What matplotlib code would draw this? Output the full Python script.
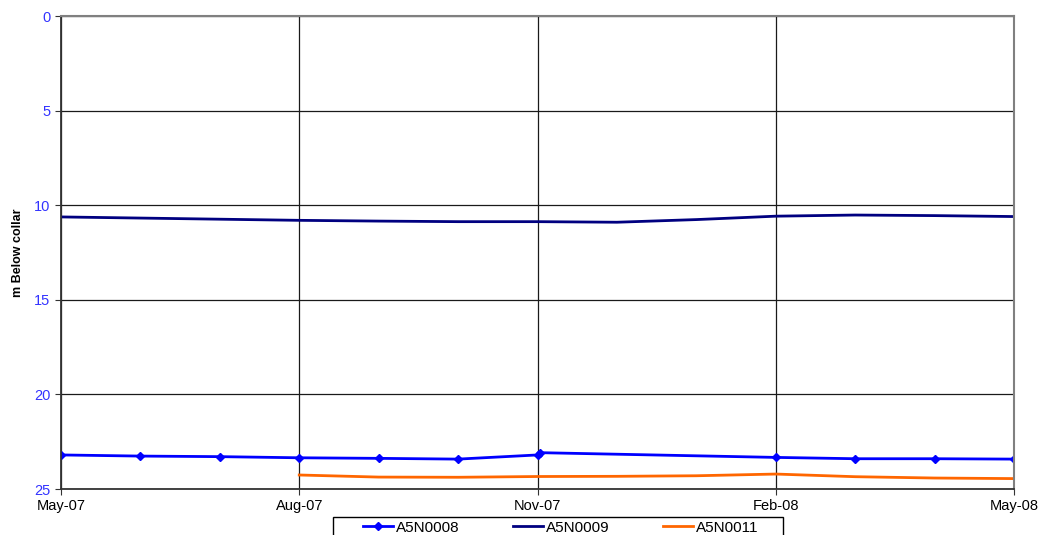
import matplotlib.pyplot as plt
from matplotlib.patches import Rectangle

plt.rcParams['font.family'] = ['Liberation Sans', 'DejaVu Sans']

# month index from May-07 (0) to May-08 (12)
tick_pos = [0, 3, 6, 9, 12]
tick_labels = ['May-07', 'Aug-07', 'Nov-07', 'Feb-08', 'May-08']

x_0008 = [0, 1, 2, 3, 4, 5, 6, 6.03, 9, 10, 11, 12]
y_0008 = [23.20, 23.26, 23.29, 23.35, 23.38, 23.42, 23.20, 23.08, 23.33, 23.40, 23.40, 23.42]

x_0009 = [0, 1, 2, 3, 4, 5, 6, 7, 8, 9, 10, 11, 12]
y_0009 = [10.62, 10.68, 10.74, 10.80, 10.84, 10.87, 10.87, 10.90, 10.76, 10.58, 10.52, 10.55, 10.60]

x_0011 = [3, 4, 5, 6, 7, 8, 9, 10, 11, 12]
y_0011 = [24.26, 24.37, 24.38, 24.34, 24.33, 24.30, 24.21, 24.35, 24.42, 24.45]

fig = plt.figure(figsize=(10.43, 5.35), dpi=100)
ax = fig.add_axes([61 / 1043, 1 - 489 / 535, (1014 - 61) / 1043, (489 - 16) / 535])

ax.plot(x_0008, y_0008, color='#0000ff', lw=2.0, marker='D', ms=4.5, label='A5N0008')
ax.plot(x_0009, y_0009, color='#000080', lw=2.0, label='A5N0009')
ax.plot(x_0011, y_0011, color='#ff6600', lw=2.0, label='A5N0011')

ax.set_xlim(0, 12)
ax.set_ylim(25, 0)
ax.set_yticks([0, 5, 10, 15, 20, 25])
ax.set_xticks(tick_pos)
ax.set_xticklabels(tick_labels)
ax.grid(True, color='#1a1a1a', lw=0.9)
ax.set_axisbelow(True)

ax.tick_params(axis='y', colors='#333333', labelcolor='#3333ff', labelsize=10.5, length=4, direction='out')
ax.tick_params(axis='x', colors='#333333', labelcolor='black', labelsize=10.5, length=4, direction='out')

for side in ['top', 'right']:
    ax.spines[side].set_color('#808080')
    ax.spines[side].set_linewidth(1.5)
for side in ['left', 'bottom']:
    ax.spines[side].set_color('#333333')
    ax.spines[side].set_linewidth(1.3)

ax.set_ylabel('m Below collar', fontsize=9, fontweight='bold', labelpad=7)

# legend box (runs off the bottom edge like the original)
box = Rectangle((333 / 1043, -10 / 535), 450 / 1043, 28 / 535, transform=fig.transFigure,
                facecolor='white', edgecolor='black', lw=1.0, clip_on=False)
fig.add_artist(box)
leg = fig.legend(loc='center left', bbox_to_anchor=(363 / 1043, 1 - 527.5 / 535), ncol=3,
                 fontsize=11, frameon=False, handlelength=1.96, columnspacing=3.5,
                 borderpad=0, handletextpad=0.2, borderaxespad=0)

fig.savefig('out.png', dpi=100)
